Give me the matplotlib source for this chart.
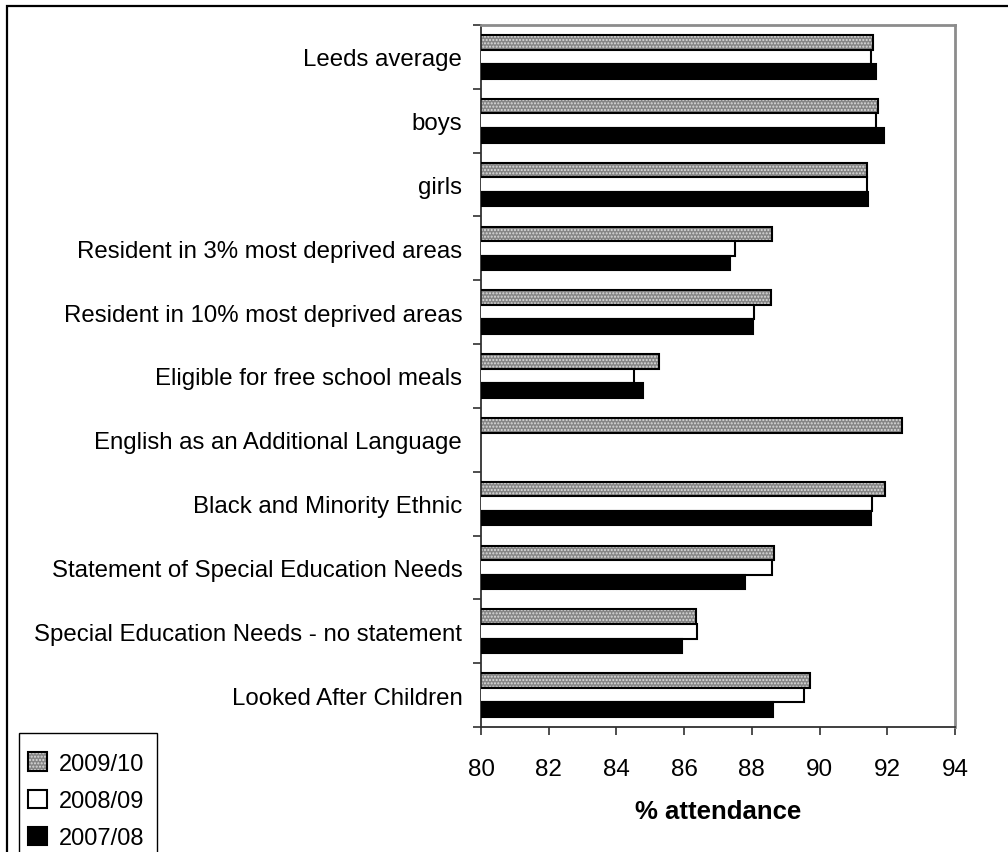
import numpy as np
import matplotlib
matplotlib.use("Agg")
import matplotlib.pyplot as plt
from matplotlib.patches import Patch, Rectangle

plt.rcParams["font.family"] = ["Liberation Sans", "DejaVu Sans"]

categories = [
    "Leeds average",
    "boys",
    "girls",
    "Resident in 3% most deprived areas",
    "Resident in 10% most deprived areas",
    "Eligible for free school meals",
    "English as an Additional Language",
    "Black and Minority Ethnic",
    "Statement of Special Education Needs",
    "Special Education Needs - no statement",
    "Looked After Children",
]
series_names = ["2009/10", "2008/09", "2007/08"]
att_2009_10 = [91.59, 91.74, 91.41, 88.60, 88.57, 85.25, 92.43, 91.92, 88.66, 86.35, 89.72]
att_2008_09 = [91.53, 91.68, 91.39, 87.51, 88.05, 84.52, np.nan, 91.56, 88.59, 86.37, 89.54]
att_2007_08 = [91.67, 91.89, 91.44, 87.36, 88.03, 84.78, np.nan, 91.52, 87.81, 85.94, 88.62]
x_ticks = [80, 82, 84, 86, 88, 90, 92, 94]

W, H = 1008, 853
fig = plt.figure(figsize=(W / 100, H / 100), dpi=100)
ax = fig.add_axes([481 / W, 1 - 728 / H, (955 - 481) / W, (728 - 26) / H])

# outer chart frame (left and top edges visible)
fig.patches.append(Rectangle((7 / W, -0.2), 1.2, 1.2 - 7 / H,
                             transform=fig.transFigure, fill=False,
                             edgecolor="black", linewidth=1.6, zorder=0))

y = np.arange(len(categories))
bh = 0.228
edge_lw = 1.5
dot_face = "#858585"
dot_color = "#dcdcdc"

# 2009/10: dotted grey fill, then a black outline on top
ax.barh(y - bh, att_2009_10, height=bh, color=dot_face, edgecolor=dot_color,
        hatch=".....", linewidth=0, zorder=2)
ax.barh(y - bh, att_2009_10, height=bh, facecolor="none", edgecolor="black",
        linewidth=edge_lw, zorder=3)
ax.barh(y, att_2008_09, height=bh, color="white", edgecolor="black",
        linewidth=edge_lw, zorder=3)
ax.barh(y + bh, att_2007_08, height=bh, color="black", edgecolor="black",
        linewidth=edge_lw, zorder=3)

ax.set_xlim(80, 94)
ax.set_ylim(len(categories) - 0.5, -0.5)
ax.set_xticks(x_ticks)
ax.set_xticklabels([str(t) for t in x_ticks], fontsize=17.5)
ax.tick_params(axis="x", direction="out", length=5.5, width=1.2, pad=17,
               color="#303030")

# category boundaries carry the ticks, centres carry the labels
ax.set_yticks(np.arange(-0.5, len(categories) + 0.5, 1.0))
ax.set_yticklabels([])
ax.tick_params(axis="y", which="major", direction="out", length=6, width=1.2,
               color="#303030")
ax.set_yticks(y, minor=True)
ax.set_yticklabels(categories, minor=True, fontsize=17.3)
ax.tick_params(axis="y", which="minor", length=0, pad=13.5)

for side in ("top", "right"):
    ax.spines[side].set_color("#8c8c8c")
    ax.spines[side].set_linewidth(2.0)
for side in ("left", "bottom"):
    ax.spines[side].set_color("#303030")
    ax.spines[side].set_linewidth(1.3)

ax.set_xlabel("% attendance", fontsize=18.5, fontweight="bold")
ax.xaxis.set_label_coords(0.5, (728 - 812) / (728 - 26))
ax.xaxis.label.set_va("center")

# legend box: its bottom edge runs past the lower edge of the chart
fig.patches.append(Rectangle((19 / W, -0.1), (157 - 19) / W, 0.1 + 1 - 734 / H,
                             transform=fig.transFigure, fill=False,
                             edgecolor="black", linewidth=1.0, zorder=4))
handles = [
    (Patch(facecolor=dot_face, edgecolor=dot_color, hatch=".....", linewidth=0),
     Patch(facecolor="none", edgecolor="black", linewidth=edge_lw)),
    Patch(facecolor="white", edgecolor="black", linewidth=edge_lw),
    Patch(facecolor="black", edgecolor="black", linewidth=edge_lw),
]
leg = fig.legend(handles, series_names, loc="upper left",
                 bbox_to_anchor=(19 / W, 1 - 744 / H), bbox_transform=fig.transFigure,
                 fontsize=17, frameon=False, borderpad=0.4,
                 borderaxespad=0, handlelength=0.8, handleheight=0.8,
                 handletextpad=0.5, labelspacing=0.63)

fig.savefig("out.png", dpi=100, facecolor="white")
